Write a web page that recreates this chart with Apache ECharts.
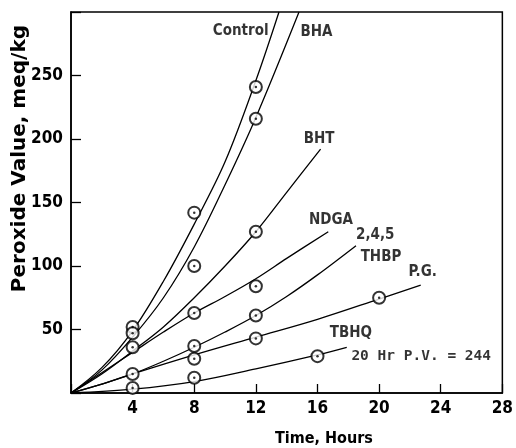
<!DOCTYPE html>
<html>
<head>
<meta charset="utf-8">
<script src="https://cdn.jsdelivr.net/npm/echarts@6/dist/echarts.min.js"></script>
<style>
  html, body { margin: 0; padding: 0; background: #fff; }
  #chart { width: 516px; height: 448px; }
</style>
</head>
<body>
<div id="chart"></div>
<script>
"use strict"

// fitted curves, [hours, peroxide value]
const controlCurve = [[0, 0], [2, 20], [4, 49], [6, 88], [8, 133], [10, 182], [12, 246], [13.5, 300]];
const bhaCurve = [[0, 0], [2, 18], [4, 44], [6, 75], [8, 115], [10, 164], [12, 217], [14.8, 300]];
const bhtCurve = [[0, 0], [2, 15], [4, 33], [6, 52], [8, 75], [10, 100], [12, 127], [14, 158], [16.2, 192]];
const ndgaCurve = [[0, 0], [2, 16], [4, 32], [6, 48], [8, 63], [10, 76], [12, 90], [14, 106], [16.7, 127]];
const thbpCurve = [[0, 0], [2, 7], [4, 15], [6, 25], [8, 36], [10, 48], [12, 61], [14, 76], [16, 93], [18.5, 116]];
const pgCurve = [[0, 0], [2, 7], [4, 15], [8, 30], [12, 44], [16, 58], [20, 74], [22.7, 85]];
const tbhqCurve = [[0, 0], [4, 3], [8, 9], [12, 19], [16, 30], [17.9, 36]];

// measured points
const controlPts = [[4, 52], [8, 142], [12, 241]];
const bhaPts = [[4, 47], [8, 100], [12, 216]];
const bhtPts = [[4, 36], [12, 127]];
const ndgaPts = [[8, 63], [12, 84]];
const thbpPts = [[8, 37], [12, 61]];
const pgPts = [[4, 15], [8, 27], [12, 43], [20, 75]];
const tbhqPts = [[4, 4], [8, 12], [16, 29]];

const xTicks = [4, 8, 12, 16, 20, 24, 28];
const yTicks = [50, 100, 150, 200, 250];

// curve names written in the plot
const curveLabels = [
  { name: "Control", value: [9.2, 285] },
  { name: "BHA", value: [14.9, 284] },
  { name: "BHT", value: [15.1, 200] },
  { name: "NDGA", value: [15.45, 136] },
  { name: "2,4,5", value: [18.5, 124] },
  { name: "THBP", value: [18.8, 107] },
  { name: "P.G.", value: [21.9, 95] },
  { name: "TBHQ", value: [16.8, 47] }
];
const noteLabel = [{ name: "20 Hr P.V. = 244", value: [18.2, 29] }];

const font = "'Liberation Sans Narrow', 'DejaVu Sans Condensed', 'Liberation Sans', sans-serif";
const ink = "#000";

const curves = [controlCurve, bhaCurve, bhtCurve, ndgaCurve, thbpCurve, pgCurve, tbhqCurve];
const points = [controlPts, bhaPts, bhtPts, ndgaPts, thbpPts, pgPts, tbhqPts];

const lineSeries = curves.map((c) => ({
  type: "line",
  data: c,
  smooth: 0.35,
  showSymbol: false,
  lineStyle: { color: ink, width: 1.3 },
  z: 2,
  silent: true
}));

const pointSeries = points.map((p) => ({
  type: "scatter",
  data: p,
  symbol: "emptyCircle",
  symbolSize: 12,
  itemStyle: { color: ink, borderColor: ink, borderWidth: 1.2 },
  z: 3
}));

const dotSeries = points.map((p) => ({
  type: "scatter",
  data: p,
  symbol: "circle",
  symbolSize: 2.5,
  itemStyle: { color: ink },
  z: 4
}));

const textSeries = (data, style) => ({
  type: "scatter",
  data: data,
  symbolSize: 0,
  silent: true,
  z: 5,
  label: Object.assign({
    show: true, position: "right", distance: 0,
    formatter: (p) => p.name,
    color: ink
  }, style)
});

const chart = echarts.init(document.getElementById("chart"));

chart.setOption({
  animation: false,
  backgroundColor: "#fff",
  grid: {
    left: 71, right: 8, top: 12, bottom: 55,
    show: true, borderColor: ink, borderWidth: 1.5
  },
  xAxis: {
    type: "value",
    min: 0, max: 28, interval: 4,
    axisLine: { lineStyle: { color: ink, width: 1.5 } },
    axisTick: { inside: true, length: 9, lineStyle: { color: ink, width: 1.3 } },
    splitLine: { show: false },
    axisLabel: {
      color: ink, fontFamily: font, fontWeight: "bold", fontSize: 17, margin: 7,
      formatter: (v) => (xTicks.includes(v) ? String(v) : "")
    }
  },
  yAxis: {
    type: "value",
    min: 0, max: 300, interval: 50,
    axisLine: { lineStyle: { color: ink, width: 1.5 } },
    axisTick: { inside: true, length: 10, lineStyle: { color: ink, width: 1.3 } },
    splitLine: { show: false },
    axisLabel: {
      color: ink, fontFamily: font, fontWeight: "bold", fontSize: 17, margin: 8,
      formatter: (v) => (yTicks.includes(v) ? String(v) : "")
    }
  },
  graphic: [
    {
      type: "text", left: 10, top: 25, rotation: Math.PI / 2,
      style: { text: "Peroxide Value, meq/kg", fill: ink, font: "bold 20px 'DejaVu Sans', sans-serif" }
    },
    {
      type: "text", left: 275, top: 431,
      style: { text: "Time, Hours", fill: ink, font: "bold 16px " + font }
    }
  ],
  series: [
    ...lineSeries,
    ...pointSeries,
    ...dotSeries,
    textSeries(curveLabels, { fontFamily: font, fontWeight: "bold", fontSize: 15 }),
    textSeries(noteLabel, { fontFamily: "'DejaVu Sans Mono', 'Liberation Mono', monospace", fontWeight: "bold", fontSize: 14.5 })
  ]
});
</script>
</body>
</html>
